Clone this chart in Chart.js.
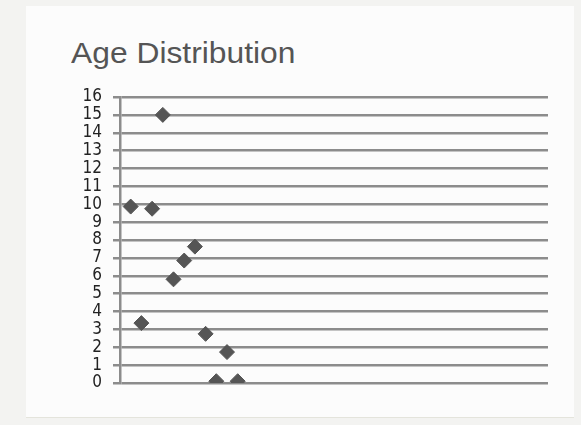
<!DOCTYPE html>
<html>
<head>
<meta charset="utf-8">
<script src="https://cdn.jsdelivr.net/npm/chart.js@4"></script>
<style>
  html, body { margin: 0; padding: 0; background: #f3f3f1; }
  .panel {
    position: absolute; left: 26px; top: 6px; width: 548px; height: 411px;
    background: #fcfcfc; border-bottom: 1px solid #e4e4dc;
  }
  .title {
    position: absolute; left: 71px; top: 36px;
    font: 30px "Liberation Sans", "Open Sans", sans-serif; color: #555555;
    transform: scaleX(1.06); transform-origin: left top;
  }
  .wrap { position: absolute; left: 0; top: 0; width: 581px; height: 425px; }
</style>
</head>
<body>
<div class="panel"></div>
<div class="title">Age Distribution</div>
<div class="wrap"><canvas id="ageChart"></canvas></div>
<script>
  // values
  const ageIndex = [1, 2, 3, 4, 5, 6, 7, 8, 9, 10, 11];
  const counts = [9.87, 3.35, 9.75, 15.0, 5.8, 6.85, 7.63, 2.75, 0.1, 1.73, 0.1];
  const yTicks = [0, 1, 2, 3, 4, 5, 6, 7, 8, 9, 10, 11, 12, 13, 14, 15, 16];

  const points = ageIndex.map((x, i) => ({ x, y: counts[i] }));
  const gridColor = "#8c8c8c";

  new Chart(document.getElementById("ageChart"), {
    type: "scatter",
    data: {
      datasets: [
        {
          data: points,
          pointStyle: "rectRot",
          pointRadius: 7.5,
          backgroundColor: "#555555",
          borderColor: "#555555",
          borderWidth: 1
        }
      ]
    },
    options: {
      responsive: true,
      maintainAspectRatio: false,
      animation: false,
      layout: { padding: { left: 0, top: 97, right: 33, bottom: 42 } },
      plugins: { legend: { display: false }, tooltip: { enabled: false } },
      scales: {
        x: { type: "linear", min: 0, max: 40, display: false },
        y: {
          min: yTicks[0],
          max: yTicks[yTicks.length - 1],
          afterBuildTicks: (scale) => {
            scale.ticks = yTicks.map((value) => ({ value }));
          },
          afterFit: (scale) => {
            scale.width = 120;
          },
          border: { display: true, color: gridColor, width: 2.5 },
          grid: { color: gridColor, lineWidth: 2.5, tickLength: 7 },
          ticks: {
            autoSkip: false,
            color: "#222222",
            padding: 11,
            font: { family: "'Liberation Sans Narrow', 'DejaVu Sans Condensed', sans-serif", size: 17 }
          }
        }
      }
    }
  });
</script>
</body>
</html>
